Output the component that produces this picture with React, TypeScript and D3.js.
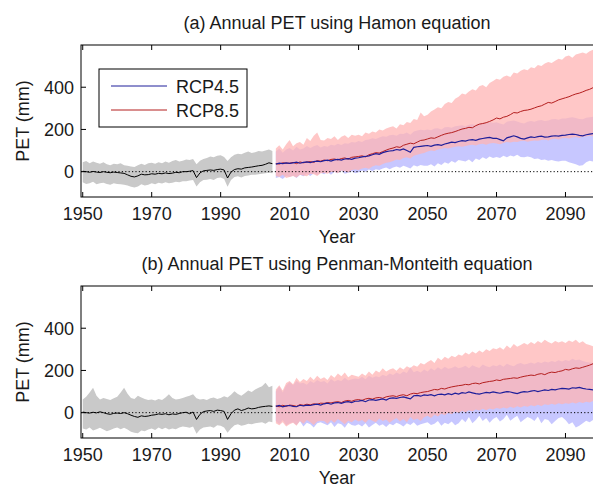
import React from 'react';
import * as d3 from 'd3';

// years
const histYears = d3.range(1950, 2006);
const futYears = d3.range(2006, 2100);

// ---- panel (a) Hamon ----
const histMeanA = [
  2, 0, -3, 1, -2, -4, 0, -3, -5, -2,
  -4, -6, -8, -15, -22, -25, -20, -12, -15, -14,
  -10, -12, -8, -10, -6, -9, -7, -3, -5, 0,
  0, 2, 5, -28, -6, 4, 6, 8, 6, 10,
  12, 8, -30, -2, 10, 14, 12, 18, 20, 22,
  25, 28, 30, 35, 42, 38,
];
const histLoA = [
  -50, -58, -55, -48, -60, -55, -52, -58, -62, -55,
  -58, -60, -62, -65, -72, -75, -70, -60, -65, -62,
  -55, -60, -52, -56, -50, -55, -52, -48, -50, -45,
  -45, -42, -40, -70, -50, -40, -38, -35, -40, -30,
  -28, -35, -72, -40, -25, -22, -28, -20, -18, -15,
  -15, -12, -10, -8, -5, -8,
];
const histHiA = [
  45, 50, 40, 48, 42, 38, 45, 35, 30, 38,
  35, 40, 30, 28, 25, 22, 30, 38, 32, 40,
  42, 38, 45, 40, 48, 42, 50, 55, 48, 52,
  58, 55, 60, 35, 52, 60, 65, 72, 68, 75,
  78, 70, 50, 68, 80, 85, 82, 90, 95, 88,
  92, 98, 95, 100, 105, 98,
];
const rcp85MeanA = [
  38, 36, 42, 40,
  40, 44, 38, 46, 42, 45, 48, 44, 52, 50,
  55, 52, 58, 60, 56, 62, 65, 60, 68, 70,
  72, 75, 70, 80, 85, 90, 88, 95, 102, 108,
  112, 118, 115, 125, 130, 135, 132, 140, 148, 150,
  155, 160, 158, 165, 172, 178, 182, 185, 190, 196,
  202, 205, 210, 208, 218, 225, 228, 232, 238, 245,
  254, 250, 258, 262, 270, 280, 278, 285, 290, 292,
  296, 302, 308, 312, 320, 328, 325, 332, 340, 345,
  350, 355, 362, 368, 372, 378, 385, 390, 398, 405,
];
const rcp85LoA = [
  -20, -25, -15, -30,
  -25, -20, -28, -15, -18, -22, -10, -12, -20, -8,
  -5, -10, -2, 0, -8, 5, 2, -4, 8, 10,
  8, 15, 18, 14, 25, 30, 28, 36, 42, 45,
  50, 58, 55, 65, 68, 62, 75, 80, 85, 88,
  95, 100, 98, 105, 108, 112, 110, 115, 118, 120,
  118, 122, 125, 128, 124, 130, 132, 128, 134, 136,
  134, 130, 136, 140, 138, 142, 140, 145, 146, 142,
  145, 148, 146, 150, 152, 148, 154, 156, 152, 158,
  160, 157, 162, 164, 160, 165, 167, 170, 168, 172,
];
const rcp85HiA = [
  110, 125, 105, 130,
  150, 120, 135, 140, 128, 160, 145, 170, 185, 150,
  148, 160, 155, 168, 150, 165, 172, 160, 175, 170,
  175, 168, 185, 180, 190, 185, 200, 195, 205, 210,
  215, 205, 225, 220, 235, 230, 250, 245, 280, 262,
  270, 285, 295, 305, 300, 320, 330, 325, 345, 355,
  370, 365, 380, 390, 385, 405, 410, 400, 420, 430,
  440, 435, 450, 455, 448, 470, 465, 478, 485, 480,
  495, 490, 505, 500, 512, 520, 515, 525, 535, 530,
  545, 550, 540, 555, 560, 565, 558, 570, 578, 582,
];
const rcp45MeanA = [
  36, 40, 38, 42,
  39, 42, 45, 40, 44, 46, 43, 48, 50, 47,
  52, 55, 50, 56, 58, 55, 60, 62, 58, 64,
  66, 70, 72, 75, 80, 85, 82, 90, 95, 98,
  100, 105, 102, 108, 100, 92, 115, 118, 120, 122,
  124, 120, 126, 128, 125, 131, 135, 140, 138, 143,
  147, 145, 150, 152, 148, 154, 157, 160, 162, 158,
  158, 152, 146, 160, 165, 170, 165, 158, 154, 160,
  165, 162, 166, 168, 164, 165, 168, 170, 168, 172,
  173, 176, 178, 176, 172, 170, 175, 178, 180, 178,
];
const rcp45LoA = [
  -30, -25, -35, -20,
  -25, -18, -30, -15, -22, -10, -20, -8, -15, -5,
  -12, -2, -15, 0, -8, 5, -10, -5, 2, -8,
  -3, 5, 0, 10, 2, 12, 8, 15, 20, 12,
  20, 25, 18, 28, 22, 15, 30, 25, 32, 28,
  28, 35, 25, 40, 32, 45, 38, 50, 42, 55,
  52, 48, 58, 45, 62, 55, 68, 60, 72, 65,
  70, 65, 75, 68, 76, 72, 80, 70, 68, 72,
  68, 60, 62, 55, 58, 52, 55, 50, 48, 52,
  52, 45, 40, 35, 28, 30, 45, 52, 48, 55,
];
const rcp45HiA = [
  95, 110, 90, 105,
  112, 100, 118, 105, 110, 122, 112, 120, 126, 115,
  122, 118, 128, 124, 132, 126, 135, 132, 140, 138,
  145, 140, 150, 152, 158, 155, 162, 168, 165, 172,
  175, 170, 180, 178, 185, 175, 190, 195, 198, 196,
  200, 196, 204, 206, 200, 210, 212, 208, 215, 218,
  220, 215, 222, 225, 220, 228, 232, 230, 235, 232,
  234, 228, 224, 236, 240, 242, 238, 232, 228, 236,
  240, 236, 242, 245, 240, 242, 248, 250, 246, 252,
  252, 255, 258, 254, 250, 248, 255, 258, 260, 258,
];

// ---- panel (b) Penman-Monteith ----
const histMeanB = [
  3, 0, -2, 2, -1, 4, 0, -5, -8, -3,
  -2, -4, 0, -5, -12, -18, -22, -15, -18, -16,
  -12, -10, -6, -8, -5, -10, -6, -8, -4, 0,
  2, -5, 3, -32, -8, 5, 8, 10, 6, 12,
  10, 6, -32, -5, 12, 18, 10, 15, 22, 18,
  20, 25, 28, 30, 32, 30,
];
const histLoB = [
  -75, -80, -70, -85, -78, -72, -80, -88, -82, -75,
  -70, -78, -72, -80, -90, -95, -98, -85, -88, -80,
  -75, -82, -70, -78, -72, -80, -75, -78, -70, -65,
  -68, -72, -65, -100, -80, -70, -68, -65, -72, -60,
  -62, -70, -95, -75, -60, -55, -62, -58, -52, -55,
  -50, -48, -45, -52, -42, -45,
];
const histHiB = [
  62, 75, 95, 118, 80, 62, 70, 65, 60, 68,
  75, 95, 118, 90, 70, 65, 80, 72, 65, 60,
  62, 58, 65, 60, 72, 87, 70, 62, 65, 70,
  75, 80, 87, 68, 62, 65, 60, 68, 72, 65,
  70, 78, 72, 85, 102, 88, 80, 92, 105, 98,
  110, 118, 125, 142, 120, 128,
];
const rcp85MeanB = [
  32, 28, 35, 30,
  36, 34, 30, 38, 35, 40, 37, 42, 40, 45,
  44, 48, 46, 50, 52, 48, 55, 58, 54, 60,
  62, 58, 65, 68, 64, 70, 72, 68, 75, 78,
  80, 76, 82, 85, 80, 88, 92, 90, 95, 98,
  100, 105, 110, 108, 115, 112, 118, 122, 125, 128,
  130, 134, 132, 138, 140, 136, 142, 145, 148, 150,
  155, 152, 158, 160, 162, 165, 163, 168, 172, 175,
  178, 176, 182, 185, 180, 188, 192, 190, 195, 198,
  205, 202, 208, 212, 210, 215, 220, 225, 232, 238,
];
const rcp85LoB = [
  -50, -60, -45, -65,
  -55, -48, -62, -40, -52, -35, -45, -58, -42, -38,
  -40, -52, -35, -48, -30, -42, -55, -38, -45, -32,
  -42, -35, -48, -30, -38, -45, -28, -40, -32, -48,
  -35, -25, -42, -30, -45, -20, -35, -28, -40, -22,
  -15, -25, -10, -18, -5, -12, 0, -8, 5, -2,
  8, 2, 12, 5, 15, 10, 18, 12, 20, 15,
  22, 18, 25, 20, 28, 22, 30, 25, 32, 28,
  35, 30, 38, 32, 40, 36, 42, 38, 45, 40,
  45, 42, 48, 44, 50, 46, 52, 48, 55, 50,
];
const rcp85HiB = [
  110, 130, 105, 140,
  150, 135, 165, 145, 160, 150, 170, 155, 175, 160,
  168, 155, 178, 165, 185, 172, 190, 168, 180, 175,
  170, 185, 175, 195, 180, 200, 190, 210, 195, 205,
  210, 198, 215, 205, 220, 212, 225, 218, 235, 228,
  240, 250, 235, 260, 248, 265, 255, 270, 262, 275,
  270, 285, 275, 290, 280, 295, 285, 300, 292, 305,
  300, 310, 298, 318, 305, 325, 312, 320, 330, 322,
  335, 325, 340, 330, 345, 335, 328, 340, 332, 338,
  330, 342, 335, 345, 330, 338, 325, 320, 315, 310,
];
const rcp45MeanB = [
  30, 34, 28, 32,
  34, 30, 28, 35, 32, 36, 34, 38, 40, 36,
  42, 45, 40, 46, 48, 44, 50, 52, 48, 54,
  55, 58, 52, 60, 62, 58, 62, 65, 60, 68,
  70, 68, 72, 75, 70, 65, 80, 82, 78, 84,
  82, 85, 80, 86, 88, 84, 90, 86, 92, 88,
  95, 92, 98, 94, 90, 88, 92, 96, 94, 98,
  95, 92, 96, 100, 98, 94, 90, 96, 100, 98,
  102, 105, 100, 104, 108, 105, 110, 108, 112, 115,
  114, 112, 118, 116, 120, 115, 112, 110, 108, 110,
];
const rcp45LoB = [
  -40, -55, -35, -60,
  -50, -45, -58, -40, -65, -48, -55, -70, -50, -45,
  -52, -60, -45, -68, -50, -55, -72, -48, -58, -62,
  -55, -65, -50, -70, -58, -48, -62, -55, -68, -52,
  -60, -48, -55, -65, -50, -58, -45, -62, -55, -50,
  -45, -58, -52, -40, -62, -48, -55, -42, -60, -50,
  -30, -45, -20, -50, -35, -15, -40, -25, -48, -30,
  -20, -42, -30, -10, -38, -25, -15, -45, -32, -20,
  -28, -40, -18, -50, -30, -35, -55, -40, -25, -20,
  -35, -55, -45, -70, -62, -50, -38, -45, -35, -40,
];
const rcp45HiB = [
  100, 125, 95, 130,
  145, 130, 150, 138, 142, 132, 150, 140, 155, 145,
  150, 138, 160, 148, 155, 150, 165, 152, 158, 162,
  160, 170, 158, 175, 165, 172, 168, 180, 172, 185,
  178, 190, 182, 195, 188, 215, 192, 198, 190, 205,
  195, 210, 200, 215, 205, 218, 208, 212, 220, 210,
  215, 222, 210, 225, 218, 212, 228, 220, 215, 225,
  220, 228, 218, 232, 225, 220, 230, 235, 228, 232,
  238, 232, 240, 235, 242, 238, 245, 240, 248, 242,
  250, 245, 255, 248, 252, 245, 240, 238, 235, 230,
];

const xTicks = [1950, 1970, 1990, 2010, 2030, 2050, 2070, 2090];
const yTicks = [0, 200, 400];
const legendItems = ['RCP4.5', 'RCP8.5'];

const FONT = 'Arial, "Liberation Sans", Helvetica, sans-serif';
const W = 593;
const H = 487;
const PLOT_H = 152;
const BLUE = '#1e1e9a';
const RED = '#b41e1e';

const x = d3.scaleLinear().domain([1949.5, 2100.3]).range([81, 601]);

const zip = (years: number[], mean: number[], lo: number[], hi: number[]) =>
  years.map((yr, i) => ({ yr, mean: mean[i], lo: lo[i], hi: hi[i] }));

const panels = [
  {
    id: 'a',
    top: 45,
    title: '(a) Annual PET using Hamon equation',
    legend: true,
    hist: zip(histYears, histMeanA, histLoA, histHiA),
    r45: zip(futYears, rcp45MeanA, rcp45LoA, rcp45HiA),
    r85: zip(futYears, rcp85MeanA, rcp85LoA, rcp85HiA),
  },
  {
    id: 'b',
    top: 286,
    title: '(b) Annual PET using Penman-Monteith equation',
    legend: false,
    hist: zip(histYears, histMeanB, histLoB, histHiB),
    r45: zip(futYears, rcp45MeanB, rcp45LoB, rcp45HiB),
    r85: zip(futYears, rcp85MeanB, rcp85LoB, rcp85HiB),
  },
];

type Pt = { yr: number; mean: number; lo: number; hi: number };

function Panel({ p }: { p: typeof panels[number] }) {
  const top = p.top;
  const bottom = top + PLOT_H;
  const y = d3.scaleLinear().domain([-120, 600]).range([bottom, top]);
  const area = d3.area<Pt>().x(d => x(d.yr)).y0(d => y(d.lo)).y1(d => y(d.hi));
  const line = d3.line<Pt>().x(d => x(d.yr)).y(d => y(d.mean));
  const [x0, x1] = x.range();
  const clipId = `clip-${p.id}`;
  const midX = (x0 + x1) / 2 - 4;

  return (
    <g>
      <defs>
        <clipPath id={clipId}>
          <rect x={x0} y={top} width={x1 - x0} height={PLOT_H} />
        </clipPath>
      </defs>
      <text x={midX} y={top - 16} textAnchor="middle" fontSize={18} fill="#1a1a1a">
        {p.title}
      </text>
      <g clipPath={`url(#${clipId})`}>
        <path d={area(p.hist) || ''} fill="#c9c9c9" />
        <path d={area(p.r45) || ''} fill="#b4b4ff" fillOpacity={0.75} />
        <path d={area(p.r85) || ''} fill="#ffb4b4" fillOpacity={0.75} />
        <line x1={x0} x2={x1} y1={y(0)} y2={y(0)} stroke="#000" strokeWidth={1} strokeDasharray="1.2,2.2" />
        <path d={line(p.hist) || ''} fill="none" stroke="#000" strokeWidth={1} />
        <path d={line(p.r85) || ''} fill="none" stroke={RED} strokeWidth={1} />
        <path d={line(p.r45) || ''} fill="none" stroke={BLUE} strokeWidth={1.2} />
      </g>
      {/* axes box */}
      <rect x={x0} y={top} width={x1 - x0} height={PLOT_H} fill="none" stroke="#000" strokeWidth={1} />
      {xTicks.map(t => (
        <g key={t}>
          <line x1={x(t)} x2={x(t)} y1={bottom} y2={bottom - 5} stroke="#000" />
          <line x1={x(t)} x2={x(t)} y1={top} y2={top + 5} stroke="#000" />
          <text x={x(t)} y={bottom + 23} textAnchor="middle" fontSize={18} fill="#1a1a1a">
            {t}
          </text>
        </g>
      ))}
      {yTicks.map(t => (
        <g key={t}>
          <line x1={x0} x2={x0 + 5} y1={y(t)} y2={y(t)} stroke="#000" />
          <text x={x0 - 7} y={y(t) + 6.5} textAnchor="end" fontSize={18} fill="#1a1a1a">
            {t}
          </text>
        </g>
      ))}
      <text x={midX} y={bottom + 46} textAnchor="middle" fontSize={18} fill="#1a1a1a">
        Year
      </text>
      <text
        transform={`translate(29,${(top + bottom) / 2}) rotate(-90)`}
        textAnchor="middle"
        fontSize={18}
        fill="#1a1a1a"
      >
        PET (mm)
      </text>
      {p.legend && (
        <g>
          <rect x={99} y={69} width={148} height={58} fill="#fff" stroke="#000" strokeWidth={1} />
          {legendItems.map((name, i) => (
            <g key={name} transform={`translate(0,${86 + i * 24})`}>
              <line x1={111} x2={167} y1={0} y2={0} stroke={i === 0 ? BLUE : RED} strokeWidth={1} />
              <text x={176} y={6.5} fontSize={18} fill="#1a1a1a">
                {name}
              </text>
            </g>
          ))}
        </g>
      )}
    </g>
  );
}

export default function App() {
  return (
    <svg
      width={W}
      height={H}
      viewBox={`0 0 ${W} ${H}`}
      style={{ position: 'absolute', left: 0, top: 0, background: '#fff', fontFamily: FONT }}
    >
      <rect width={W} height={H} fill="#fff" />
      {panels.map(p => (
        <Panel key={p.id} p={p} />
      ))}
    </svg>
  );
}
